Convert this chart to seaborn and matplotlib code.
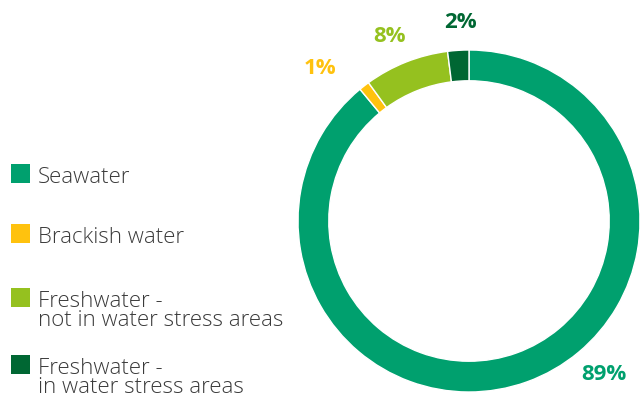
import matplotlib
matplotlib.use("Agg")
import matplotlib.pyplot as plt
import seaborn as sns
import numpy as np
from matplotlib.patches import Rectangle

# ---- data ----
categories = ["Seawater", "Brackish water", "Freshwater -\nnot in water stress areas",
              "Freshwater -\nin water stress areas"]
values = [89, 1, 8, 2]
pct_labels = ["89%", "1%", "8%", "2%"]
colors = ["#00A06E", "#FFC20E", "#95C11F", "#006733"]

sns.set_theme(style="white")
plt.rcParams["font.family"] = ["Open Sans", "DejaVu Sans"]

W, H = 640, 394
fig = plt.figure(figsize=(W / 100, H / 100), dpi=100)
fig.patch.set_facecolor("white")

# donut axes: center (469, 221) px, radius 171 px
cx, cy, R = 469, 221, 171
ax = fig.add_axes([(cx - R) / W, (H - cy - R) / H, 2 * R / W, 2 * R / H])
wedges, _ = ax.pie(values, colors=colors, startangle=90, counterclock=False,
                   radius=1, wedgeprops=dict(width=0.18, edgecolor="white", linewidth=1))
ax.set_xlim(-1, 1)
ax.set_ylim(-1, 1)
ax.set_aspect("equal")
ax.axis("off")

# percentage labels (positions in pixel layout)
label_px = [(604, 375), (320, 68), (390, 37), (460, 22)]
for (px, py), txt, col in zip(label_px, pct_labels, colors):
    fig.text(px / W, 1 - py / H, txt, ha="center", va="center", color=col,
             fontsize=16, fontweight="bold")

# legend drawn manually: square aligned with first text line
leg_top_px = [164, 224, 288, 355]
sq = 19
line_gap = 19
for top, lab, col in zip(leg_top_px, categories, colors):
    fig.patches.append(Rectangle((11 / W, 1 - (top + sq) / H), sq / W, sq / H,
                                 transform=fig.transFigure, facecolor=col,
                                 edgecolor="none"))
    for i, line in enumerate(lab.split("\n")):
        base = top + sq + i * line_gap
        fig.text(38 / W, 1 - base / H, line, ha="left", va="baseline",
                 color="#3a3a3a", fontsize=16, fontweight="light")

fig.savefig("out.png", dpi=100, facecolor="white")
